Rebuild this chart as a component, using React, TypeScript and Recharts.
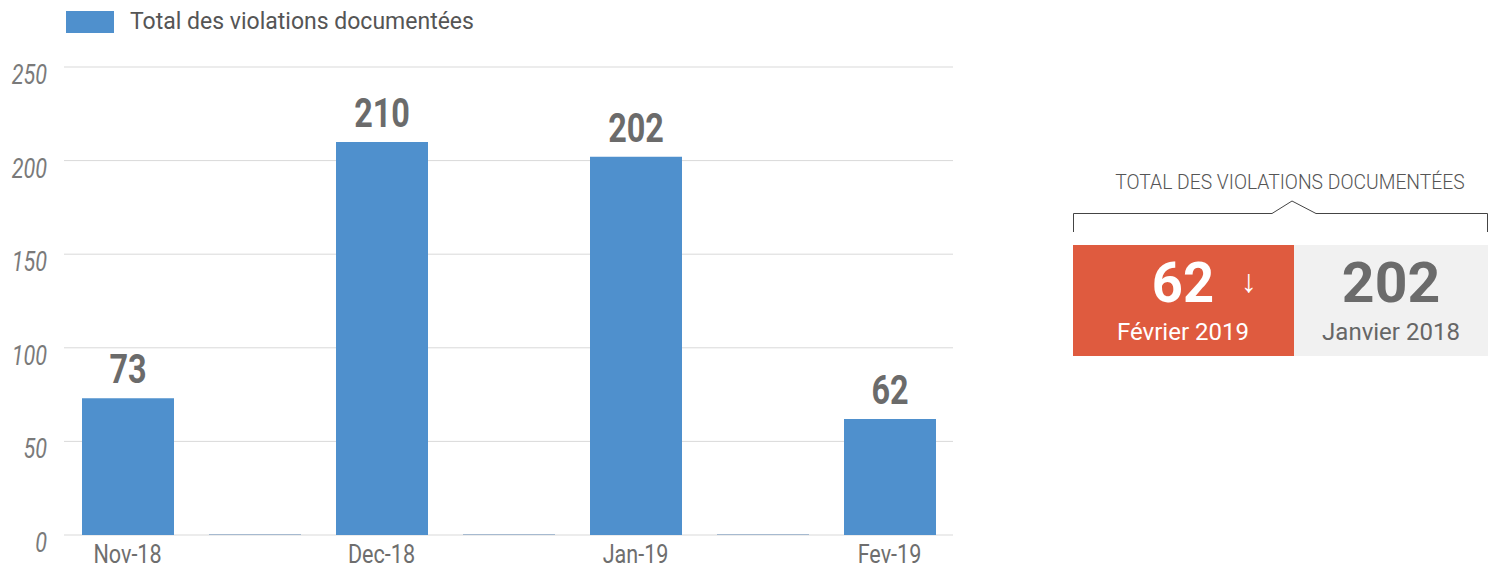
import React from "react";
import { BarChart, Bar, XAxis, YAxis, CartesianGrid, LabelList, Cell } from "recharts";

const months = ["Nov-18", "", "Dec-18", "", "Jan-19", "", "Fev-19"];
const violations = [73, 0, 210, 0, 202, 0, 62];
const yTicks = [0, 50, 100, 150, 200, 250];
const seriesName = "Total des violations documentées";

const summaryTitle = "TOTAL DES VIOLATIONS DOCUMENTÉES";
const currentValue = 62;
const currentLabel = "Février 2019";
const previousValue = 202;
const previousLabel = "Janvier 2018";

const data = months.map((m, i) => ({ id: i, month: m, value: violations[i] }));

const BLUE = "#4f90cd";
const FONT = "Roboto, 'Noto Sans', sans-serif";

// no Roboto Condensed offline, so squeeze Roboto horizontally
const YTick = (props: any) => {
  const { x, y, payload } = props;
  return (
    <text
      transform={`translate(${x - 17},${y + 17}) scale(0.8,1)`}
      textAnchor="end"
      fontFamily={FONT}
      fontStyle="italic"
      fontSize={27}
      fill="#7a7a7a"
    >
      {payload.value}
    </text>
  );
};

const XTick = (props: any) => {
  const { x, y, payload } = props;
  const label = months[payload.value];
  if (!label) return null;
  return (
    <text
      transform={`translate(${x},${y + 28}) scale(0.83,1)`}
      textAnchor="middle"
      fontFamily={FONT}
      fontSize={26}
      fill="#6e6e6e"
    >
      {label}
    </text>
  );
};

const BarValue = (props: any) => {
  const { x, y, width, value } = props;
  if (!value) return null;
  return (
    <text
      transform={`translate(${x + width / 2},${y - 15}) scale(0.79,1)`}
      textAnchor="middle"
      fontFamily={FONT}
      fontWeight={700}
      fontSize={41}
      fill="#6b6b6b"
    >
      {value}
    </text>
  );
};

const Summary = () => (
  <svg
    width={1495}
    height={570}
    style={{ position: "absolute", left: 0, top: 0, pointerEvents: "none" }}
  >
    <text
      transform="translate(1290,189) scale(0.92,1)"
      textAnchor="middle"
      fontFamily={FONT}
      fontWeight={300}
      fontSize={21}
      fill="#555"
    >
      {summaryTitle}
    </text>
    <path
      d="M1073.5 232 V213.5 H1272 L1292 201 L1316 213.5 H1487.5 V232"
      fill="none"
      stroke="#444"
      strokeWidth={1}
    />
    <rect x={1073} y={245} width={221} height={111} fill="#df5b3f" />
    <rect x={1294} y={245} width={194} height={111} fill="#f1f1f1" />
    <text
      transform="translate(1183,302) scale(0.97,1)"
      textAnchor="middle"
      fontFamily={FONT}
      fontWeight={700}
      fontSize={56}
      fill="#fff"
    >
      {currentValue}
    </text>
    <text
      x={1249}
      y={292}
      textAnchor="middle"
      fontFamily={FONT}
      fontWeight={700}
      fontSize={32}
      fill="#fff"
    >
      ↓
    </text>
    <text x={1183} y={340} textAnchor="middle" fontFamily={FONT} fontSize={24} fill="#fff">
      {currentLabel}
    </text>
    <text
      transform="translate(1391,302) scale(1.02,1)"
      textAnchor="middle"
      fontFamily={FONT}
      fontWeight={700}
      fontSize={56}
      fill="#6b6b6b"
    >
      {previousValue}
    </text>
    <text x={1391} y={340} textAnchor="middle" fontFamily={FONT} fontSize={24} fill="#666">
      {previousLabel}
    </text>
  </svg>
);

export default function App() {
  return (
    <div
      style={{
        position: "absolute",
        left: 0,
        top: 0,
        width: 1495,
        height: 570,
        background: "#fff",
        fontFamily: FONT,
      }}
    >
      <div style={{ position: "absolute", left: 66, top: 11, width: 48, height: 22, background: BLUE }} />
      <div
        style={{
          position: "absolute",
          left: 130,
          top: 9,
          fontSize: 23,
          lineHeight: "26px",
          color: "#555",
          whiteSpace: "nowrap",
        }}
      >
        {seriesName}
      </div>
      <BarChart
        width={960}
        height={570}
        data={data}
        margin={{ top: 67, right: 7, bottom: 0, left: 0 }}
        barSize={92}
        style={{ overflow: "visible" }}
      >
        <CartesianGrid vertical={false} stroke="#d9d9d9" />
        <XAxis
          dataKey="id"
          height={35}
          axisLine={false}
          tickLine={false}
          tickSize={0}
          tickMargin={0}
          interval={0}
          tick={<XTick />}
        />
        <YAxis
          width={64}
          domain={[0, 250]}
          ticks={yTicks}
          axisLine={false}
          tickLine={false}
          tickSize={0}
          tickMargin={0}
          tick={<YTick />}
        />
        <Bar dataKey="value" name={seriesName} fill={BLUE} minPointSize={1} isAnimationActive={false}>
          {data.map((d) => (
            <Cell key={d.id} fill={d.value === 0 ? "#a6bad0" : BLUE} />
          ))}
          <LabelList dataKey="value" content={<BarValue />} />
        </Bar>
      </BarChart>
      <Summary />
    </div>
  );
}
